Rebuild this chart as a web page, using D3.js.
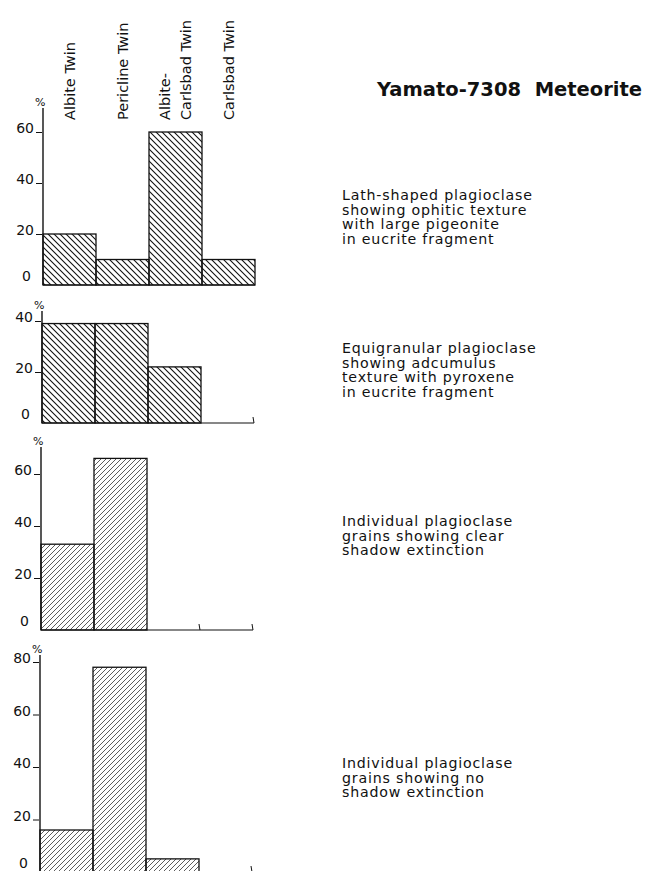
<!DOCTYPE html>
<html><head><meta charset="utf-8">
<script src="https://cdn.jsdelivr.net/npm/d3@7"></script>
<style>
body{margin:0;background:#fff}
text{font-family:"DejaVu Sans",sans-serif;fill:#111}
</style>
</head><body>
<svg id="chart" width="646" height="871"></svg>
<script>
// ---- data ----
const categories = ["Albite Twin", "Pericline Twin", "Albite-Carlsbad Twin", "Carlsbad Twin"];
const headerLabels = [["Albite Twin"], ["Pericline Twin"], ["Albite-", "Carlsbad Twin"], ["Carlsbad Twin"]];
const title = "Yamato-7308  Meteorite";

const lathShapedValues   = [20, 10, 60, 10];
const equigranularValues = [39, 39, 22, 0];
const clearShadowValues  = [33, 66, 0, 0];
const noShadowValues     = [16, 78, 5, 0];

const ticksPanel1 = [0, 20, 40, 60];
const ticksPanel2 = [0, 20, 40];
const ticksPanel3 = [0, 20, 40, 60];
const ticksPanel4 = [0, 20, 40, 60, 80];

const descPanel1 = ["Lath-shaped plagioclase", "showing ophitic texture", "with large pigeonite", "in eucrite fragment"];
const descPanel2 = ["Equigranular plagioclase", "showing adcumulus", "texture with pyroxene", "in eucrite fragment"];
const descPanel3 = ["Individual plagioclase", "grains showing clear", "shadow extinction"];
const descPanel4 = ["Individual plagioclase", "grains showing no", "shadow extinction"];

// ---- layout ----
const panels = [
  {values: lathShapedValues,   ticks: ticksPanel1, max: 60, base: 285, topPx: 132, axisTop: 108, x0: 43, hatch: "hatchBack",  desc: descPanel1, descY: 200},
  {values: equigranularValues, ticks: ticksPanel2, max: 40, base: 423, topPx: 321, axisTop: 311, x0: 42, hatch: "hatchBack",  desc: descPanel2, descY: 353},
  {values: clearShadowValues,  ticks: ticksPanel3, max: 60, base: 630, topPx: 474, axisTop: 447, x0: 41, hatch: "hatchFwd",   desc: descPanel3, descY: 526},
  {values: noShadowValues,     ticks: ticksPanel4, max: 80, base: 872, topPx: 662, axisTop: 655, x0: 40, hatch: "hatchFwd",   desc: descPanel4, descY: 768}
];
const plotWidth = 212;

const svg = d3.select("#chart");
const defs = svg.append("defs");

// hatch patterns
const pb = defs.append("pattern").attr("id", "hatchBack").attr("patternUnits", "userSpaceOnUse")
  .attr("width", 6).attr("height", 6);
pb.append("path").attr("d", "M-1,-1 L7,7 M-1,5 L1,7 M5,-1 L7,1")
  .attr("stroke", "#111").attr("stroke-width", 1.1);
const pf = defs.append("pattern").attr("id", "hatchFwd").attr("patternUnits", "userSpaceOnUse")
  .attr("width", 5).attr("height", 5);
pf.append("path").attr("d", "M-1,6 L6,-1 M-1,1 L1,-1 M4,6 L6,4")
  .attr("stroke", "#333").attr("stroke-width", 0.8);

// header labels (rotated) – positioned from the first panel's band scale
const xHeader = d3.scaleBand().domain(categories).range([panels[0].x0, panels[0].x0 + plotWidth]);
categories.forEach((c, i) => {
  const lines = headerLabels[i];
  const cx = xHeader(c) + xHeader.bandwidth() / 2;
  lines.forEach((ln, j) => {
    const x = cx + (j - (lines.length - 1) / 2) * 21;
    svg.append("text")
      .attr("transform", `translate(${x},120) rotate(-90)`)
      .attr("dy", "0.35em")
      .attr("font-size", 14.5)
      .text(ln);
  });
});

// title
svg.append("text").attr("x", 377).attr("y", 96).attr("font-size", 19.5).attr("font-weight", "bold")
  .attr("xml:space", "preserve").style("white-space", "pre").text(title);

panels.forEach(p => {
  const x = d3.scaleBand().domain(categories).range([p.x0, p.x0 + plotWidth]);
  const y = d3.scaleLinear().domain([0, p.max]).range([p.base, p.topPx]);
  const g = svg.append("g");

  // bars
  g.selectAll("rect").data(categories.map((c, i) => ({c, v: p.values[i]})).filter(d => d.v > 0))
    .join("rect")
    .attr("x", d => x(d.c)).attr("width", x.bandwidth())
    .attr("y", d => y(d.v)).attr("height", d => y(0) - y(d.v))
    .attr("fill", `url(#${p.hatch})`).attr("stroke", "#111").attr("stroke-width", 1.3);

  // baseline
  g.append("line").attr("x1", p.x0).attr("x2", p.x0 + plotWidth)
    .attr("y1", y(0)).attr("y2", y(0)).attr("stroke", "#111").attr("stroke-width", 1.2);

  // small end marks for empty categories
  categories.forEach((c, i) => {
    if (p.values[i] === 0) {
      const xe = x(c) + x.bandwidth();
      g.append("line").attr("x1", xe - 1).attr("x2", xe).attr("y1", y(0) - 6).attr("y2", y(0))
        .attr("stroke", "#111").attr("stroke-width", 1);
    }
  });

  // y axis
  const ax = g.append("g").attr("transform", `translate(${p.x0},0)`)
    .call(d3.axisLeft(y).tickValues(p.ticks).tickSize(8).tickPadding(1));
  ax.select(".domain").remove();
  ax.selectAll(".tick line").attr("stroke", "#111").attr("stroke-width", 1)
    .attr("x2", -7).attr("x1", -1)
    .filter(d => d === 0).remove();
  ax.selectAll(".tick text").attr("font-size", 14)
    .attr("dy", d => d === 0 ? "-0.3em" : "0.05em")
    .attr("font-family", "DejaVu Sans, sans-serif").attr("fill", "#111")
    .attr("x", d => d === 0 ? -12 : -9);
  g.append("line").attr("x1", p.x0).attr("x2", p.x0).attr("y1", p.axisTop).attr("y2", y(0))
    .attr("stroke", "#111").attr("stroke-width", 1.4);
  g.append("text").attr("x", p.x0 - 8).attr("y", p.axisTop - 2).attr("font-size", 11).text("%");

  // description
  p.desc.forEach((ln, k) => {
    g.append("text").attr("x", 342).attr("y", p.descY + k * 14.5)
      .attr("font-size", 14.2).attr("letter-spacing", 0.8).text(ln);
  });
});
</script>
</body></html>
